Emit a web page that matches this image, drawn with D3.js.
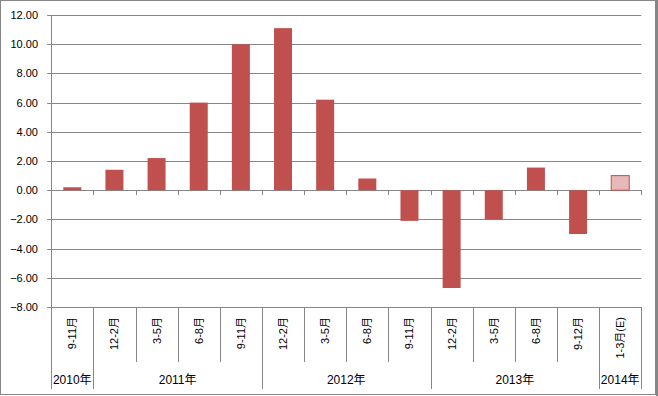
<!DOCTYPE html>
<html lang="ja">
<head>
<meta charset="UTF-8">
<title>Quarterly change</title>
<script src="https://cdn.jsdelivr.net/npm/d3@7"></script>
<style>
  body { margin: 0; background: #fff; }
  svg text { font-family: "Liberation Sans", "Noto Sans CJK JP", sans-serif; fill: #000; }
  .grid line, .frame { stroke: #868686; }
</style>
</head>
<body>
<svg id="chart" width="658" height="396"></svg>
<script>
// values
const periods = ["9-11月", "12-2月", "3-5月", "6-8月", "9-11月", "12-2月", "3-5月",
                 "6-8月", "9-11月", "12-2月", "3-5月", "6-8月", "9-12月", "1-3月(E)"];
const values = [0.2, 1.4, 2.2, 6.0, 10.0, 11.1, 6.2, 0.8, -2.1, -6.7, -2.0, 1.55, -3.0, 1.0];
const estimate = [false, false, false, false, false, false, false, false, false, false, false, false, false, true];
const years = ["2010年", "2011年", "2012年", "2013年", "2014年"];
const yearSpans = [1, 4, 4, 4, 1];
const yTicks = [-8, -6, -4, -2, 0, 2, 4, 6, 8, 10, 12];

const svg = d3.select("#chart");
const plotL = 51.2, plotR = 641.3, plotT = 15, plotB = 307;

// outer frame
svg.append("rect").attr("class", "frame")
    .attr("x", 0.5).attr("y", 0.5).attr("width", 655).attr("height", 394)
    .attr("fill", "none");
svg.append("rect").attr("x", 656).attr("y", 0).attr("width", 2).attr("height", 396).attr("fill", "#868686");

const x = d3.scaleBand().domain(d3.range(periods.length)).range([plotL, plotR]);
const y = d3.scaleLinear().domain([-8, 12]).range([plotB, plotT]);

// gridlines
const grid = svg.append("g").attr("class", "grid");
grid.selectAll("line.h").data(yTicks).enter().append("line")
    .attr("x1", plotL - 4).attr("x2", plotR)
    .attr("y1", d => Math.round(y(d)) + 0.5).attr("y2", d => Math.round(y(d)) + 0.5);

// y labels
svg.append("g").selectAll("text").data(yTicks).enter().append("text")
    .attr("x", 38).attr("y", d => y(d) + 4)
    .attr("text-anchor", "end").attr("font-size", 11)
    .text(d => d3.format(".2f")(d));

// bars
const bw = 18;
svg.append("g").selectAll("rect").data(values).enter().append("rect")
    .attr("x", (d, i) => x(i) + x.bandwidth() / 2 - bw / 2)
    .attr("width", bw)
    .attr("y", d => y(Math.max(0, d)))
    .attr("height", d => Math.abs(y(d) - y(0)))
    .attr("fill", (d, i) => estimate[i] ? "#e6b9b8" : "#c0504d")
    .attr("stroke", (d, i) => estimate[i] ? "#c0504d" : "none");

// axes: vertical line, ticks at zero
const boundaries = d3.range(periods.length + 1).map(i => i < periods.length ? x(i) : plotR);
grid.append("line").attr("x1", Math.round(plotL) + 0.5).attr("x2", Math.round(plotL) + 0.5)
    .attr("y1", plotT).attr("y2", 389);
grid.selectAll("line.t").data(boundaries.slice(1)).enter().append("line")
    .attr("x1", d => Math.round(d) + 0.5).attr("x2", d => Math.round(d) + 0.5)
    .attr("y1", Math.round(y(0))).attr("y2", Math.round(y(0)) + 5);

// year boundaries (long) and period boundaries (short)
const yearEdges = d3.cumsum(yearSpans);
grid.selectAll("line.c").data(boundaries.slice(1)).enter().append("line")
    .attr("x1", d => Math.round(d) + 0.5).attr("x2", d => Math.round(d) + 0.5)
    .attr("y1", plotB)
    .attr("y2", (d, i) => yearEdges.includes(i + 1) ? 389 : 362);

// period labels
svg.append("g").selectAll("text").data(periods).enter().append("text")
    .attr("transform", (d, i) => `translate(${x(i) + x.bandwidth() / 2 + 4},317) rotate(-90)`)
    .attr("text-anchor", "end").attr("font-size", 11)
    .text(d => d);

// year labels
const yearStart = [0].concat(Array.from(yearEdges).slice(0, -1));
svg.append("g").selectAll("text").data(years).enter().append("text")
    .attr("x", (d, i) => (boundaries[yearStart[i]] + boundaries[yearEdges[i]]) / 2)
    .attr("y", 384).attr("text-anchor", "middle").attr("font-size", 12)
    .text(d => d);
</script>
</body>
</html>
